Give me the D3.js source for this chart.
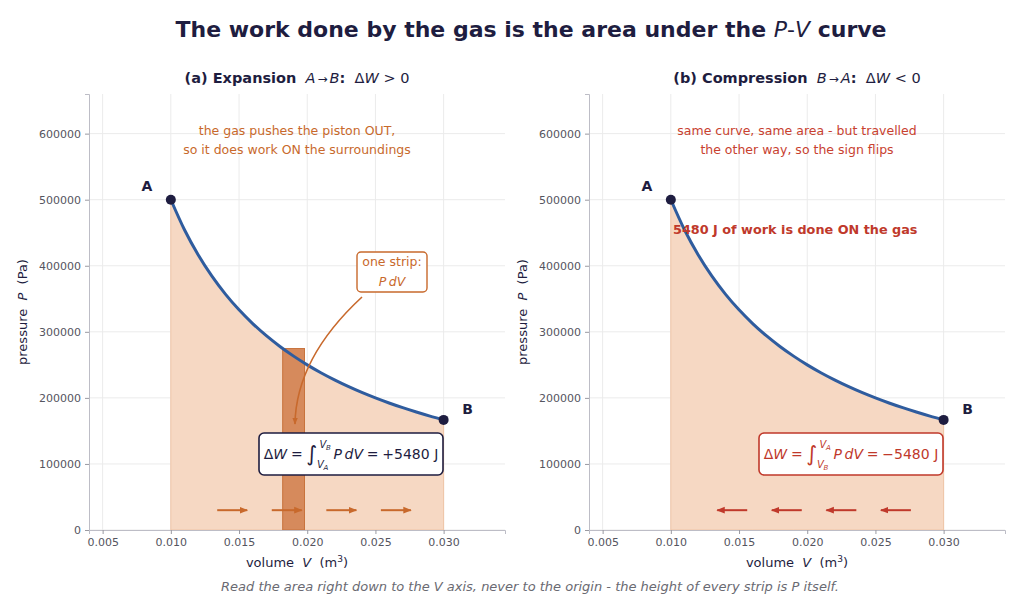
<!DOCTYPE html>
<html><head><meta charset="utf-8">
<script src="https://cdn.jsdelivr.net/npm/d3@7"></script>
<style>
body{margin:0;background:#fff;}
text{font-family:"DejaVu Sans",sans-serif;white-space:pre;}
</style></head>
<body>
<svg id="c" width="1024" height="613"></svg>
<script>
// ---- data ----
const volumes = [0.010,0.011,0.012,0.013,0.014,0.015,0.016,0.017,0.018,0.019,0.020,0.021,0.022,0.023,0.024,0.025,0.026,0.027,0.028,0.029,0.030];
const pressures = [500000,454500,416700,384600,357100,333300,312500,294100,277800,263200,250000,238100,227300,217400,208300,200000,192300,185200,178600,172400,166700];
const stateA = {V:0.010, P:500000};
const stateB = {V:0.030, P:166700};
const strip = {V0:0.0182, V1:0.0198, P:274700};
const arrowCenters = [0.0145,0.0185,0.0225,0.0265];
const arrowHalf = 0.0011;
const arrowP = 30000;
const xTicks = [0.005,0.010,0.015,0.020,0.025,0.030];
const yTicks = [0,100000,200000,300000,400000,500000,600000];
const workJ = 5480;

const navy="#1e1d40", orange="#c8692c", red="#c0392b", blue="#2f5c9e", fillC="#f6d8c3";
const svg = d3.select("#c");

const defs = svg.append("defs");
function marker(id,color){
  defs.append("marker").attr("id",id).attr("viewBox","0 0 10 10").attr("refX",9).attr("refY",5)
    .attr("markerWidth",4.2).attr("markerHeight",4.2).attr("orient","auto-start-reverse").attr("markerUnits","strokeWidth")
    .append("path").attr("d","M0,1 L10,5 L0,9 z").attr("fill",color);
}
marker("mo",orange); marker("mr",red);

// title
const title = svg.append("text").attr("x",531).attr("y",37).attr("text-anchor","middle")
  .attr("font-size",22).attr("font-weight","bold").attr("fill",navy);
title.append("tspan").text("The work done by the gas is the area under the ");
title.append("tspan").attr("font-style","italic").attr("font-weight","normal").text("P");
title.append("tspan").attr("font-weight","normal").text("-");
title.append("tspan").attr("font-style","italic").attr("font-weight","normal").text("V");
title.append("tspan").text(" curve");

svg.append("text").attr("x",530).attr("y",591).attr("text-anchor","middle").attr("font-size",13)
  .attr("font-style","italic").attr("fill","#6a6a72")
  .text("Read the area right down to the V axis, never to the origin - the height of every strip is P itself.");

// pieces: t text, it italic, fs size, dy baseline shift, dx offset, stay (no advance), after (extra gap), skip (advance only)
function mathRow(g, pieces, color, baseSize){
  let x=0;
  pieces.forEach(p=>{
    if(p.skip!==undefined){ x+=p.skip; return; }
    const t=g.append("text").attr("x",x+(p.dx||0)).attr("y",p.dy||0).attr("font-size",p.fs||baseSize)
      .attr("fill",color).attr("font-style",p.it?"italic":"normal").attr("font-weight",p.bold?"bold":"normal").text(p.t);
    const w=t.node().getComputedTextLength();
    if(!p.stay) x+=w+(p.dx||0)+(p.after||0);
  });
  return x;
}

function panel(ox, isExp){
  const col = isExp?orange:red;
  const x = d3.scaleLinear().domain([0.004,0.0345]).range([ox, ox+416]);
  const y = d3.scaleLinear().domain([0,660000]).range([530,94]);
  const g = svg.append("g");
  g.selectAll(".gx").data(xTicks).enter().append("line").attr("x1",d=>x(d)).attr("x2",d=>x(d))
    .attr("y1",94).attr("y2",530).attr("stroke","#ebebeb").attr("stroke-width",1);
  g.selectAll(".gy").data(yTicks).enter().append("line").attr("y1",d=>y(d)).attr("y2",d=>y(d))
    .attr("x1",ox).attr("x2",ox+416).attr("stroke","#ebebeb").attr("stroke-width",1);
  const pts = volumes.map((v,i)=>({V:v,P:pressures[i]}));
  g.append("path").datum(pts).attr("d",d3.area().x(d=>x(d.V)).y0(y(0)).y1(d=>y(d.P)).curve(d3.curveMonotoneX))
    .attr("fill",fillC).attr("stroke","#efc4a6").attr("stroke-width",1);
  if(isExp){
    g.append("rect").attr("x",x(strip.V0)).attr("width",x(strip.V1)-x(strip.V0)).attr("y",y(strip.P))
      .attr("height",y(0)-y(strip.P)).attr("fill","#d68a5c").attr("stroke","#c8733d").attr("stroke-width",1);
  }
  const ax = g.append("g").attr("transform","translate(0,530)").call(d3.axisBottom(x).tickValues(xTicks).tickFormat(d3.format(".3f")).tickSize(4).tickPadding(4));
  const ay = g.append("g").attr("transform",`translate(${ox},0)`).call(d3.axisLeft(y).tickValues(yTicks).tickFormat(d3.format("d")).tickSize(4).tickPadding(4));
  [ax,ay].forEach(a=>{
    a.select(".domain").attr("stroke","#bdbdc6");
    a.selectAll(".tick line").attr("stroke","#9a9aa2");
    a.selectAll(".tick text").attr("fill","#555560").attr("font-size",11).attr("font-family","DejaVu Sans");
  });
  g.append("path").datum(pts).attr("d",d3.line().x(d=>x(d.V)).y(d=>y(d.P)).curve(d3.curveMonotoneX))
    .attr("fill","none").attr("stroke",blue).attr("stroke-width",3).attr("stroke-linecap","round");
  [stateA,stateB].forEach(s=>g.append("circle").attr("cx",x(s.V)).attr("cy",y(s.P)).attr("r",5).attr("fill",navy));
  g.append("text").attr("x",x(stateA.V)-24).attr("y",y(stateA.P)-9).attr("text-anchor","middle").attr("font-size",14).attr("font-weight","bold").attr("fill",navy).text("A");
  g.append("text").attr("x",x(stateB.V)+24).attr("y",y(stateB.P)-6).attr("text-anchor","middle").attr("font-size",14).attr("font-weight","bold").attr("fill",navy).text("B");
  arrowCenters.forEach(c=>{
    const a = isExp? c-arrowHalf : c+arrowHalf, b = isExp? c+arrowHalf : c-arrowHalf;
    g.append("line").attr("x1",x(a)).attr("x2",x(b)).attr("y1",y(arrowP)).attr("y2",y(arrowP))
      .attr("stroke",col).attr("stroke-width",2).attr("marker-end",`url(#${isExp?"mo":"mr"})`);
  });
  const cx = ox+208;
  const lines = isExp?["the gas pushes the piston OUT,","so it does work ON the surroundings"]
                     :["same curve, same area - but travelled","the other way, so the sign flips"];
  lines.forEach((l,i)=>g.append("text").attr("x",cx).attr("y",135+i*18.5).attr("text-anchor","middle")
     .attr("font-size",12.5).attr("fill",isExp?orange:"#c8412f").text(l));
  const tg = svg.append("g");
  const s1 = isExp?"A":"B", s2 = isExp?"B":"A";
  const tp = [{t:isExp?"(a) Expansion":"(b) Compression",bold:true},{t:"  "},{t:s1,it:true,after:2},{t:"→",fs:12,after:2},{t:s2,it:true},{t:":",bold:true},{t:"  "},{t:"Δ"},{t:"W",it:true},{t:isExp?" > 0":" < 0"}];
  const tw = mathRow(tg,tp,navy,14.5);
  tg.attr("transform",`translate(${cx-tw/2},83)`);
  const xl = svg.append("text").attr("x",cx).attr("y",567).attr("text-anchor","middle").attr("font-size",13).attr("fill",navy);
  xl.append("tspan").text("volume  ");
  xl.append("tspan").attr("font-style","italic").text("V");
  xl.append("tspan").text("  (m");
  xl.append("tspan").attr("font-size",9).attr("dy",-5).text("3");
  xl.append("tspan").attr("dy",5).text(")");
  const yl = svg.append("text").attr("transform",`translate(${ox-62},312) rotate(-90)`).attr("text-anchor","middle").attr("font-size",13).attr("fill",navy);
  yl.append("tspan").text("pressure  ");
  yl.append("tspan").attr("font-style","italic").text("P");
  yl.append("tspan").text("  (Pa)");
  const bc = isExp?navy:red;
  const bx = ox+170, by=433, bw=184, bh=42;
  g.append("rect").attr("x",bx).attr("y",by).attr("width",bw).attr("height",bh).attr("rx",5)
    .attr("fill","#fff").attr("stroke",bc).attr("stroke-width",1.6);
  const mg = g.append("g");
  const up = isExp?"B":"A", lo = isExp?"A":"B";
  const mp = [{t:"Δ"},{t:"W",it:true,after:3.8},{t:"=",after:3.8},{t:"∫",fs:21,dy:2,stay:true},
    {t:"V",it:true,fs:10,dy:-11,dx:13,stay:true},{t:up,it:true,fs:7,dy:-9,dx:19.5,stay:true},
    {t:"V",it:true,fs:10,dy:9,dx:10.5,stay:true},{t:lo,it:true,fs:7,dy:11,dx:17,stay:true},
    {skip:27},
    {t:"P",it:true,after:2.6},{t:"d",it:true},{t:"V",it:true,after:3.8},{t:"=",after:3.8},{t:(isExp?"+":"−")+workJ+" J"}];
  const mw = mathRow(mg,mp,bc,14);
  mg.attr("transform",`translate(${bx+bw/2-mw/2},${by+bh/2+5})`);
  if(isExp){
    g.append("rect").attr("x",357).attr("y",252).attr("width",70).attr("height",40).attr("rx",4)
      .attr("fill","#fff").attr("stroke",orange).attr("stroke-width",1.4);
    g.append("text").attr("x",392).attr("y",266).attr("text-anchor","middle").attr("font-size",12.5).attr("fill",orange).text("one strip:");
    const sg=g.append("g");
    const sw=mathRow(sg,[{t:"P",it:true,after:2.5},{t:"d",it:true},{t:"V",it:true}],orange,12.5);
    sg.attr("transform",`translate(${392-sw/2},286)`);
    g.append("path").attr("d","M362,297 Q296,358 295,424").attr("fill","none").attr("stroke",orange)
      .attr("stroke-width",1.6).attr("marker-end","url(#mo)");
  } else {
    g.append("text").attr("x",673).attr("y",234).attr("font-size",12.8).attr("font-weight","bold")
      .attr("fill",red).text(workJ+" J of work is done ON the gas");
  }
}
panel(89,true);
panel(589,false);
</script>
</body></html>
